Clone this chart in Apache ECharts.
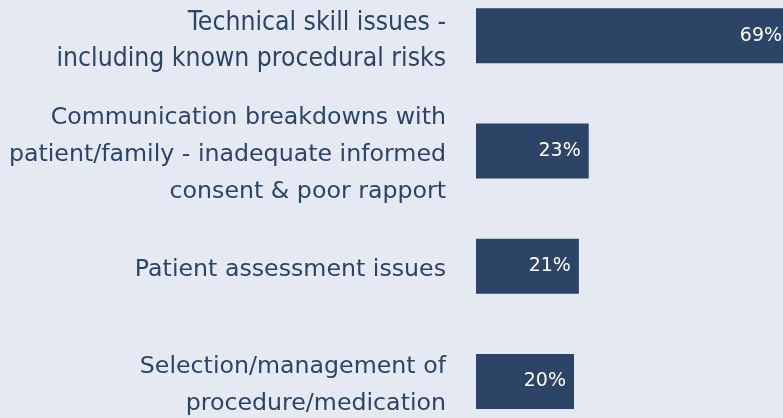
<!DOCTYPE html>
<html lang="en">
<head>
    <meta charset="UTF-8">
    <title>Issues</title>
    <script src="https://cdn.jsdelivr.net/npm/echarts@6/dist/echarts.min.js"></script>
    <style>
        html, body { margin: 0; padding: 0; background: #e5eaf2; }
    </style>
</head>
<body>
<div id="main" style="width:783px;height:418px;"></div>
<script type="text/javascript">
    var categories = [
        'Technical skill issues -\nincluding known procedural risks',
        'Communication breakdowns with\npatient/family - inadequate informed\nconsent & poor rapport',
        'Patient assessment issues',
        'Selection/management of\nprocedure/medication'
    ];
    var values = [69, 23, 21, 20];

    var myChart = echarts.init(document.getElementById('main'));

    var seriesData = [];
    for (var i = 0; i < values.length; i++) {
        var item = {value: values[i]};
        // first bar runs past the window edge, pull its label back into view
        if (i === 0) {
            item.label = {offset: [-24, 0]};
        }
        seriesData.push(item);
    }

    var option = {
        backgroundColor: '#e5eaf2',
        animation: false,
        grid: {left: 476, right: -36, top: -22, height: 461, outerBoundsMode: 'none'},
        xAxis: {
            type: 'value',
            min: 0,
            max: 70,
            show: false
        },
        yAxis: {
            type: 'category',
            inverse: true,
            data: categories,
            axisLine: {show: false},
            axisTick: {show: false},
            axisLabel: {
                margin: 30,
                color: '#2c4468',
                fontSize: 23.7,
                lineHeight: 37,
                align: 'right',
                padding: [7, 0, 0, 0],
                fontFamily: 'DejaVu Sans',
                formatter: function (v, idx) {
                    if (idx === 0) {
                        return '{c|' + v + '}';
                    }
                    return v;
                },
                rich: {
                    c: {
                        fontFamily: 'Liberation Sans Narrow, DejaVu Sans Condensed',
                        fontSize: 26.3,
                        lineHeight: 36,
                        padding: [5, 0, 0, 0],
                        color: '#2c4468'
                    }
                }
            }
        },
        series: [{
            type: 'bar',
            data: seriesData,
            barWidth: 55,
            itemStyle: {color: '#2c4466'},
            label: {
                show: true,
                position: 'insideRight',
                distance: 8,
                color: '#ffffff',
                fontSize: 19,
                fontFamily: 'DejaVu Sans',
                formatter: '{c}%'
            }
        }]
    };
    myChart.setOption(option);
</script>
</body>
</html>
